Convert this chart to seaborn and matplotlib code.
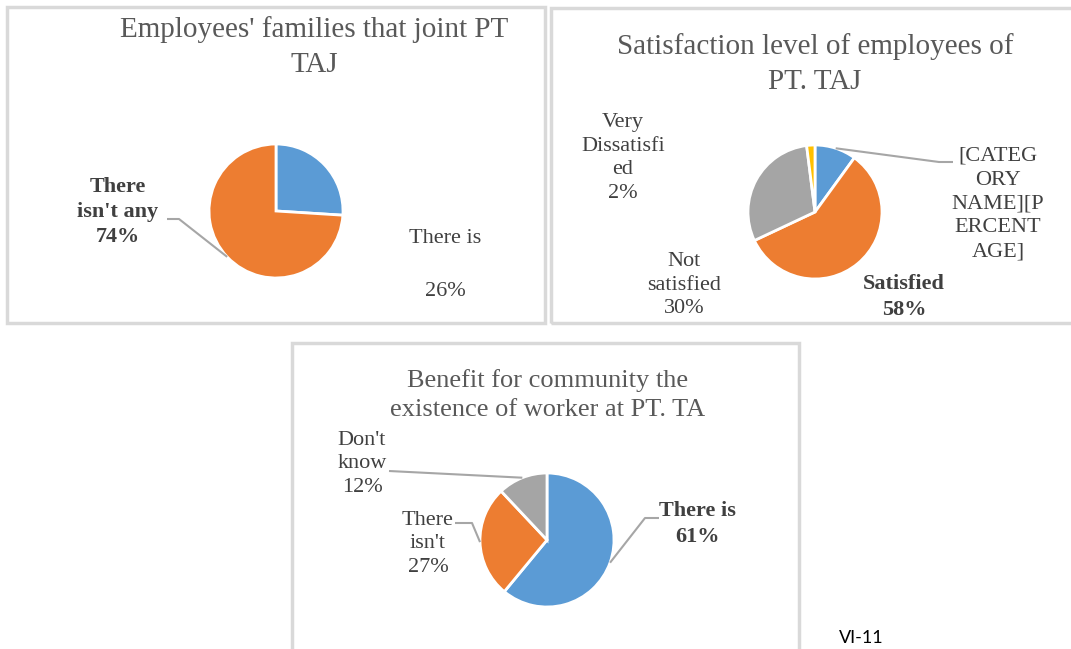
import numpy as np
import matplotlib
matplotlib.use("Agg")
import matplotlib.pyplot as plt
from matplotlib.patches import Rectangle
import seaborn as sns

W, H = 1071, 649

# chart 1
fam_labels = ["There is", "There isn't any"]
fam_values = [26, 74]

# chart 2
sat_labels = ["[CATEGORY NAME]", "Satisfied", "Not satisfied", "Very Dissatisfied"]
sat_values = [10, 58, 30, 2]

# chart 3
ben_labels = ["There is", "There isn't", "Don't know"]
ben_values = [61, 27, 12]

COLORS = ["#5B9BD5", "#ED7D31", "#A5A5A5", "#FFC000"]
TITLE_C = "#595959"
LABEL_C = "#404040"
LEADER_C = "#A6A6A6"
SERIF = ["Liberation Serif", "DejaVu Serif"]


def py(y):
    # pixel row (top origin) -> data y
    return H - y


def draw_pie(ax, values, center, radius):
    wedges, _ = ax.pie(
        values, colors=COLORS[: len(values)], startangle=90, counterclock=False,
        center=(center[0], py(center[1])), radius=radius, frame=True,
        wedgeprops=dict(edgecolor="white", linewidth=2),
    )
    return wedges


def edge_point(wedge, center, radius):
    ang = np.deg2rad((wedge.theta1 + wedge.theta2) / 2)
    return center[0] + radius * np.cos(ang), py(center[1]) + radius * np.sin(ang)


def leader(ax, wedge, center, radius, pts):
    x0, y0 = edge_point(wedge, center, radius)
    xs = [x0] + [p[0] for p in pts]
    ys = [y0] + [py(p[1]) for p in pts]
    ax.plot(xs, ys, color=LEADER_C, lw=1.5, solid_capstyle="butt")


def label(ax, x, y, s, bold=False, size=16, ls=1.35):
    ax.text(x, py(y), s, ha="center", va="center", fontsize=size, color=LABEL_C,
            family=SERIF, fontweight="bold" if bold else "normal", linespacing=ls)


def title(ax, x, y, s, size=21, ls=1.45):
    ax.text(x, py(y), s, ha="center", va="center", fontsize=size, color=TITLE_C,
            family=SERIF, linespacing=ls)


sns.set_theme(style="white")
fig = plt.figure(figsize=(W / 100, H / 100), dpi=100)
ax = fig.add_axes([0, 0, 1, 1])

# chart frames
for x0, y0, x1, y1 in [(7, 7, 545, 323), (551, 8, 1075, 323), (292, 343, 799, 655)]:
    ax.add_patch(Rectangle((x0, py(y1)), x1 - x0, y1 - y0, fill=False,
                           edgecolor="#D9D9D9", lw=2.5))

R = 67

# chart 1
c1 = (276, 211)
w1 = draw_pie(ax, fam_values, c1, R)
title(ax, 314, 47, "Employees' families that joint PT\nTAJ")
label(ax, 118, 212, "There\nisn't any\n74%", bold=True)
leader(ax, w1[1], c1, R, [(179, 219), (167, 219)])
label(ax, 445, 265, "There is\n\n26%", ls=1.55)

# chart 2
c2 = (815, 212)
w2 = draw_pie(ax, sat_values, c2, R)
title(ax, 815, 64, "Satisfaction level of employees of\nPT. TAJ")
label(ax, 998, 204, "[CATEG\nORY\nNAME][P\nERCENT\nAGE]")
leader(ax, w2[0], c2, R, [(939, 162), (953, 162)])
label(ax, 623, 158, "Very\nDissatisfi\ned\n2%")
label(ax, 684, 285, "Not\nsatisfied\n30%")
label(ax, 904, 297, "Satisfied\n58%", bold=True)

# chart 3
c3 = (547, 540)
w3 = draw_pie(ax, ben_values, c3, R)
title(ax, 548, 395, "Benefit for community the\nexistence of worker at PT. TA", size=19, ls=1.4)
label(ax, 697, 524, "There is\n61%", bold=True)
leader(ax, w3[0], c3, R, [(645, 518), (659, 518)])
label(ax, 428, 544, "There\nisn't\n27%")
leader(ax, w3[1], c3, R, [(472, 523), (455, 523)])
label(ax, 362, 464, "Don't\nknow\n12%")
leader(ax, w3[2], c3, R, [(389, 471)])

ax.text(861, py(638), "VI-11", ha="center", va="center", fontsize=13,
        color="black", family=["Lato", "DejaVu Sans"])

ax.set_xlim(0, W)
ax.set_ylim(0, H)
ax.set_aspect("auto")
ax.axis("off")

fig.savefig("out.png", dpi=100)
plt.close(fig)
